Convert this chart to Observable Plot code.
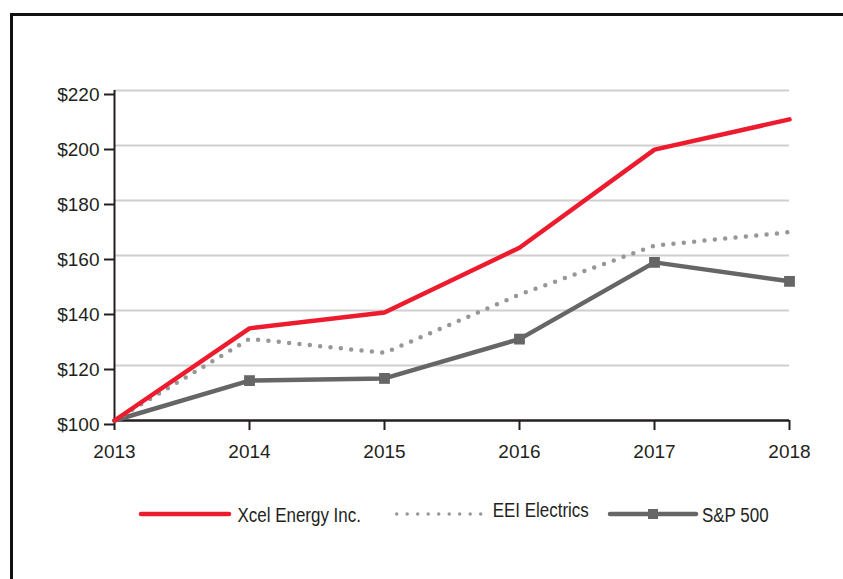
<!DOCTYPE html>
<html>
<head>
<meta charset="utf-8">
<script src="https://cdn.jsdelivr.net/npm/d3@7"></script>
<script src="https://cdn.jsdelivr.net/npm/@observablehq/plot@0.6"></script>
<style>
  html, body { margin: 0; padding: 0; background: #fff; overflow: hidden; }
  #wrap { position: relative; width: 843px; height: 579px; overflow: hidden; font-family: "Liberation Sans", Arial, sans-serif; }
  #frame { position: absolute; left: 10px; top: 13px; width: 1000px; height: 800px; border-left: 3px solid #111; border-top: 3px solid #111; box-sizing: border-box; }
  #chart { position: absolute; left: 0; top: 0; }
  #legend { position: absolute; left: 0; top: 470px; }
</style>
</head>
<body>
<div id="wrap">
  <div id="frame"></div>
  <div id="chart"></div>
  <div id="legend"></div>
</div>
<script>
const years = [2013, 2014, 2015, 2016, 2017, 2018];
const xcel = [100, 133.5, 139.3, 162.8, 198.5, 209.5];
const eei = [100, 129.7, 124.6, 145.8, 163.6, 168.5];
const sp500 = [100, 114.5, 115.3, 129.6, 157.5, 150.6];
const yTicks = [100, 120, 140, 160, 180, 200, 220];
const seriesNames = ["Xcel Energy Inc.", "EEI Electrics", "S&P 500"];
const colors = {xcel: "#ec1c2e", eei: "#979797", sp: "#666666"};

const toRows = (vals) => years.map((y, i) => ({year: y, value: vals[i]}));
const xcelRows = toRows(xcel);
const eeiRows = toRows(eei);
const spRows = toRows(sp500);

const ink = "#231f20";
const fontStack = "'Liberation Sans', Arial, sans-serif";
const NS = "http://www.w3.org/2000/svg";

// Narrow the glyphs horizontally (condensed look) around each text's anchor point
function condense(svg, sx) {
  svg.querySelectorAll("text").forEach(t => {
    let ax = +(t.getAttribute("x") || 0), ay = +(t.getAttribute("y") || 0);
    const tr = t.getAttribute("transform");
    if (tr) {
      const m = /translate\(\s*([-\d.e]+)[\s,]*([-\d.e]+)?\s*\)/.exec(tr);
      if (m) { ax += +m[1]; ay += +(m[2] || 0); }
    }
    const g = document.createElementNS(NS, "g");
    g.setAttribute("transform", `translate(${ax},${ay}) scale(${sx},1) translate(${-ax},${-ay})`);
    t.parentNode.insertBefore(g, t);
    g.appendChild(t);
  });
}

const chart = Plot.plot({
  width: 843,
  height: 470,
  marginLeft: 114,
  marginRight: 54,
  marginTop: 90,
  marginBottom: 50,
  style: {fontFamily: fontStack, fontSize: "19px", color: ink, background: "transparent", overflow: "visible"},
  x: {domain: [2013, 2018], type: "linear"},
  y: {domain: [100, 220]},
  marks: [
    Plot.ruleY(yTicks.filter(d => d > 100), {stroke: "#cfcfcf", strokeWidth: 2}),
    Plot.axisY({ticks: yTicks, tickSize: 10, tickPadding: 5, strokeWidth: 2, tickFormat: d => "$" + d, label: null, dy: 4, fill: ink, fontSize: 19}),
    Plot.axisX({ticks: years, tickSize: 10, tickPadding: 14, strokeWidth: 2, tickFormat: d => String(d), label: null, fill: ink, fontSize: 19}),
    Plot.ruleX([2013], {y1: 100, y2: 220, stroke: ink, strokeWidth: 2}),
    Plot.ruleY([100], {x1: 2013, x2: 2018, stroke: ink, strokeWidth: 2.5}),
    Plot.line(spRows, {x: "year", y: "value", stroke: colors.sp, strokeWidth: 4.5, strokeLinejoin: "miter"}),
    Plot.dot(spRows.slice(1), {x: "year", y: "value", symbol: "square", r: 6.1, fill: colors.sp, stroke: "none"}),
    Plot.line(eeiRows, {x: "year", y: "value", stroke: colors.eei, strokeWidth: 4.5, strokeDasharray: "0,10.4", strokeLinecap: "round"}),
    Plot.line(xcelRows, {x: "year", y: "value", stroke: colors.xcel, strokeWidth: 4.5, strokeLinejoin: "miter"})
  ]
});
condense(chart, 0.89);
document.getElementById("chart").appendChild(chart);

// Legend (below the plot)
const lg = d3.select("#legend").append("svg")
  .attr("width", 843).attr("height", 109)
  .style("font-family", fontStack)
  .style("font-size", "19.5px");
const ly = 44;
const items = [
  {name: seriesNames[0], x0: 141, x1: 229, tx: 237.5, ty: 52.3, color: colors.xcel, kind: "solid"},
  {name: seriesNames[1], x0: 396.7, x1: 481, tx: 492.7, ty: 47.3, color: colors.eei, kind: "dotted"},
  {name: seriesNames[2], x0: 610, x1: 696, tx: 702, ty: 52.3, color: colors.sp, kind: "square"}
];
items.forEach(it => {
  const line = lg.append("line").attr("x1", it.x0).attr("x2", it.x1).attr("y1", ly).attr("y2", ly)
    .attr("stroke", it.color).attr("stroke-linecap", "round");
  if (it.kind === "dotted") {
    line.attr("stroke-width", 3.5).attr("stroke-dasharray", "0,10.5");
  } else {
    line.attr("stroke-width", 4.5);
  }
  if (it.kind === "square") {
    lg.append("rect").attr("x", (it.x0 + it.x1) / 2 - 5).attr("y", ly - 5).attr("width", 10).attr("height", 10).attr("fill", it.color);
  }
  lg.append("text").attr("x", it.tx).attr("y", it.ty).attr("fill", ink).text(it.name);
});
condense(lg.node(), 0.87);
</script>
</body>
</html>
